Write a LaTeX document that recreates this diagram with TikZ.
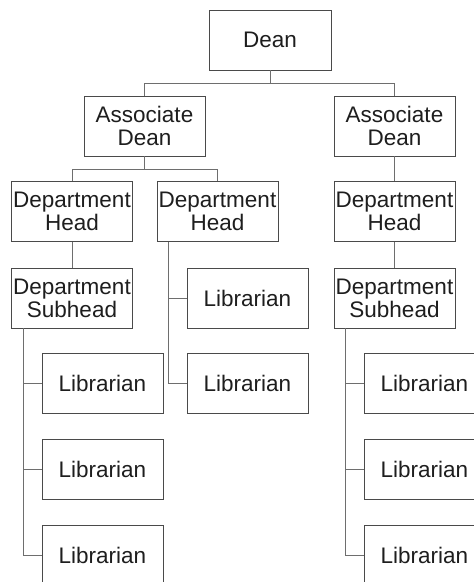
\documentclass[tikz,border=0pt]{standalone}
\usepackage{fontspec}
\setmainfont{Liberation Sans}
\usepackage{xcolor}
\usetikzlibrary{positioning, calc}
\definecolor{orgLine}{HTML}{6E6E6E}
\definecolor{orgBox}{HTML}{4A4A4A}
\definecolor{orgText}{HTML}{1E1E1E}
\tikzset{
  orgnode/.style={
    draw=orgBox, fill=white, line width=0.9pt, minimum width=121pt, minimum height=60pt,
    inner sep=0pt, align=center, text=orgText, font=\fontsize{22.5}{23}\selectfont
  },
  orglink/.style={draw=orgLine, line width=0.9pt},
  orgspine/.style={orglink}
}

\begin{document}
\begin{tikzpicture}[x=1pt, y=-1pt]
  \useasboundingbox (0,0) rectangle (474,582);
  \clip (0,0) rectangle (474,582);
  % top levels
  \node[orgnode, minimum width=122pt] (dean) at (270,40) {Dean};
  \node[orgnode] (assocA) at (144.5,126) {Associate\\Dean};
  \node[orgnode] (assocB) at (394.5,126) {Associate\\Dean};
  \node[orgnode] (headA) at (72,211.5) {Department\\Head};
  \node[orgnode] (headB) at (217.5,211.5) {Department\\Head};
  \node[orgnode] (headC) at (394.5,211.5) {Department\\Head};
  \node[orgnode] (subA) at (72,298) {Department\\Subhead};
  \node[orgnode] (subC) at (394.5,298) {Department\\Subhead};
  % librarians
  \node[orgnode] (libB1) at (247.5,298) {Librarian};
  \node[orgnode] (libB2) at (247.5,383.5) {Librarian};
  \foreach \n/\y in {1/383.5, 2/469, 3/555}{
    \node[orgnode] (libA\n) at (102.5,\y) {Librarian};
    \node[orgnode] (libC\n) at (424.5,\y) {Librarian};
  }
  % connectors
  \coordinate (deanBus) at ($(dean.south)+(0,13)$);
  \coordinate (assocBus) at ($(assocA.south)+(0,13)$);
  \draw[orglink] (dean.south) -- (deanBus);
  \foreach \t in {assocA, assocB}{\draw[orglink] (deanBus) -| (\t.north);}
  \draw[orglink] (assocA.south) -- (assocBus);
  \foreach \t in {headA, headB}{\draw[orglink] (assocBus) -| (\t.north);}
  \foreach \s/\e in {assocB/headC, headA/subA, headC/subC}{\draw[orglink] (\s) -- (\e);}
  \foreach \s/\e in {headB/libB1, headB/libB2, subA/libA1, subA/libA2, subA/libA3, subC/libC1, subC/libC2, subC/libC3}{
    \draw[orgspine] ([xshift=12pt]\s.south west) |- (\e.west);
  }
\end{tikzpicture}
\end{document}
